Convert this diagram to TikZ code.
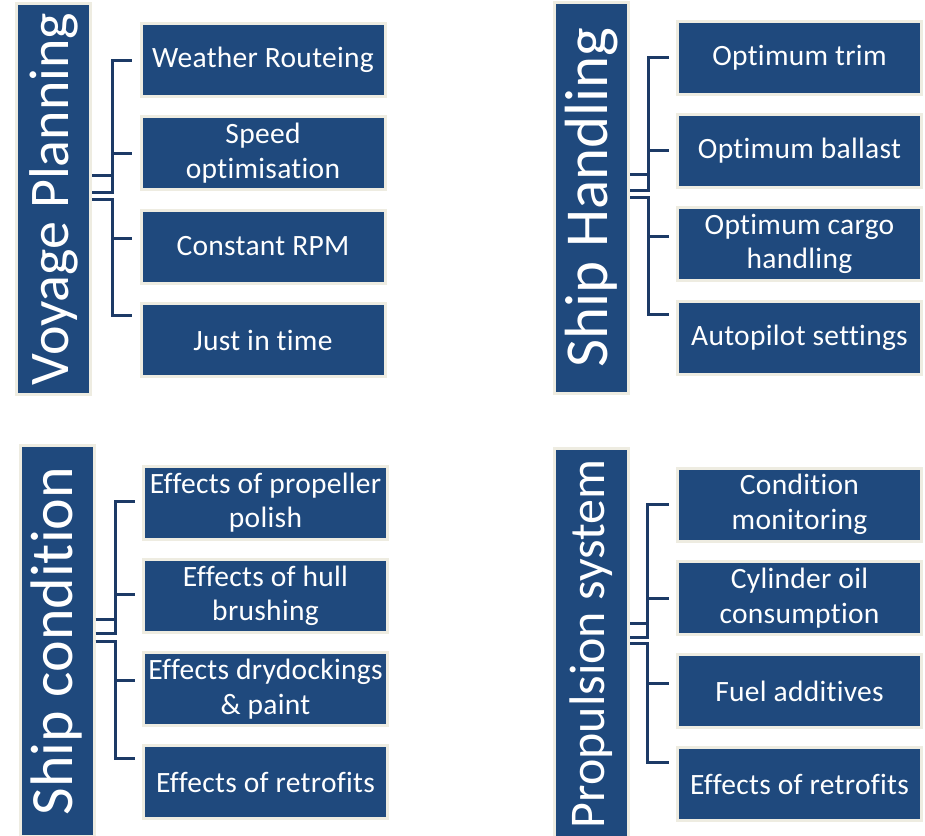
\documentclass[tikz,border=0pt]{standalone}
\usepackage{fontspec}
\setmainfont{Carlito}[Ligatures=NoCommon]
\usepackage{graphicx}
\usepackage{tikz}
\definecolor{boxblue}{HTML}{1F497D}
\definecolor{rimbeige}{HTML}{EEECE1}
\definecolor{linkblue}{HTML}{1C3A66}

\begin{document}
\begin{tikzpicture}[x=1pt, y=-1pt,
  pillar/.style={fill=boxblue, draw=rimbeige, line width=3pt, minimum width=74pt, minimum height=391pt, inner sep=0pt, text=white},
  item/.style={fill=boxblue, draw=rimbeige, line width=3pt, minimum width=244pt, minimum height=73pt, inner sep=0pt, text=white, align=center, font={\fontsize{29.5}{34.5}\selectfont\addfontfeatures{LetterSpace=1}}},
  link/.style={draw=linkblue, line width=3pt}]
\useasboundingbox (0,0) rectangle (925,835);

\node[pillar] (vp) at (53.5,199) {\rotatebox{90}{\fontsize{56}{60}\selectfont Voyage Planning}};
\node[item] (vp1) at (263,60) {Weather Routeing};
\node[item] (vp2) at (263,153) {Speed\\optimisation};
\node[item] (vp3) at (263,246.5) {Constant RPM};
\node[item] (vp4) at (263,340) {Just in time};

\node[pillar] (sh) at (591.5,197.5) {\rotatebox{90}{\fontsize{61}{65}\selectfont Ship Handling}};
\node[item] (sh1) at (799.5,57.5) {Optimum trim};
\node[item] (sh2) at (799.5,150.5) {Optimum ballast};
\node[item] (sh3) at (799.5,244) {Optimum cargo\\handling};
\node[item] (sh4) at (799.5,338) {Autopilot settings};

\node[pillar] (sc) at (57,641) {\rotatebox{90}{\fontsize{60}{64}\selectfont Ship condition}};
\node[item] (sc1) at (265.5,502.5) {Effects of propeller\\polish};
\node[item] (sc2) at (265.5,596) {Effects of hull\\brushing};
\node[item] (sc3) at (265.5,689) {Effects drydockings\\\& paint};
\node[item] (sc4) at (265.5,782) {Effects of retrofits};

\node[pillar] (ps) at (591.5,644) {\rotatebox{90}{\fontsize{50}{54}\selectfont Propulsion system}};
\node[item] (ps1) at (799.5,504.5) {Condition\\monitoring};
\node[item] (ps2) at (799.5,598) {Cylinder oil\\consumption};
\node[item] (ps3) at (799.5,691) {Fuel additives};
\node[item] (ps4) at (799.5,784) {Effects of retrofits};

% brackets
\draw[link] ([yshift=24pt]vp.east) -- ++(20,0) |- ([xshift=-7.5pt]vp1.west);
\draw[link] ([yshift=7pt]vp.east) -- ++(20,0) |- ([xshift=-7.5pt]vp2.west);
\draw[link] (vp.east) -- ++(20,0) |- ([xshift=-7.5pt,yshift=8.5pt]vp3.west);
\draw[link] (vp.east) -- ++(20,0) |- ([xshift=-7.5pt,yshift=25pt]vp4.west);

\draw[link] ([yshift=23.5pt]sh.east) -- ++(18,0) |- ([xshift=-7.5pt]sh1.west);
\draw[link] ([yshift=7.5pt]sh.east) -- ++(18,0) |- ([xshift=-7.5pt]sh2.west);
\draw[link] (sh.east) -- ++(18,0) |- ([xshift=-7.5pt,yshift=8pt]sh3.west);
\draw[link] (sh.east) -- ++(18,0) |- ([xshift=-7.5pt,yshift=24pt]sh4.west);

\draw[link] ([yshift=22pt]sc.east) -- ++(19.5,0) |- ([xshift=-7.5pt,yshift=1.5pt]sc1.west);
\draw[link] ([yshift=8pt]sc.east) -- ++(19.5,0) |- ([xshift=-7.5pt,yshift=2pt]sc2.west);
\draw[link] (sc.east) -- ++(19.5,0) |- ([xshift=-7.5pt,yshift=9pt]sc3.west);
\draw[link] (sc.east) -- ++(19.5,0) |- ([xshift=-7.5pt,yshift=24pt]sc4.west);

\draw[link] ([yshift=21pt]ps.east) -- ++(17,0) |- ([xshift=-7.5pt]ps1.west);
\draw[link] ([yshift=7pt]ps.east) -- ++(17,0) |- ([xshift=-7.5pt]ps2.west);
\draw[link] ([yshift=1pt]ps.east) -- ++(17,0) |- ([xshift=-7.5pt,yshift=8pt]ps3.west);
\draw[link] ([yshift=1pt]ps.east) -- ++(17,0) |- ([xshift=-7.5pt,yshift=22pt]ps4.west);
\end{tikzpicture}
\end{document}
